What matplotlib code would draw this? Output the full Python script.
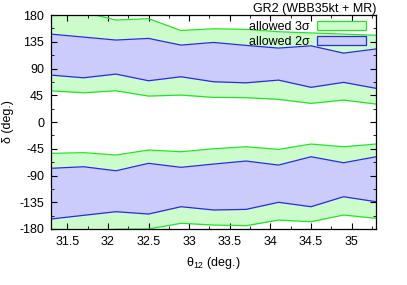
import matplotlib
matplotlib.use("Agg")
import matplotlib.pyplot as plt
from matplotlib.patches import Patch
from matplotlib.ticker import MultipleLocator, FixedLocator, FormatStrFormatter

plt.rcParams["font.family"] = ["Liberation Sans", "DejaVu Sans"]
plt.rcParams["axes.unicode_minus"] = False

# theta12 grid (deg.)
theta12 = [31.3, 31.7, 32.1, 32.5, 32.9, 33.3, 33.7, 34.1, 34.5, 34.9, 35.3]

# upper band (delta > 0)
up_3s_hi = [190, 185, 171.6, 174, 154, 157, 156, 152, 150, 148, 146]
up_2s_hi = [148, 143, 138, 140.8, 129.5, 134, 129, 124.5, 128.3, 116, 123]
up_2s_lo = [79, 74.5, 80.7, 69.5, 76.2, 67.8, 66, 70.6, 58.4, 66.8, 56.7]
up_3s_lo = [52.6, 49.3, 52.6, 43.7, 45.4, 41.5, 41, 38.2, 31.4, 37, 30.3]

# lower band (delta < 0)
lo_3s_hi = [-52.7, -51.5, -55.5, -47.1, -50, -45, -41.6, -46, -37, -41.6, -37]
lo_2s_hi = [-77.9, -75.2, -82, -69.5, -76.2, -70.7, -65.6, -72.4, -58.4, -68.5, -58.4]
lo_2s_lo = [-163.2, -157, -150.9, -154.8, -142.5, -148, -147, -135.1, -142.5, -125.7, -134.1]
lo_3s_lo = [-190, -185, -180.5, -180, -170.4, -173.3, -174.5, -164.9, -167.8, -156.5, -162]

x_ticks = [31.5, 32, 32.5, 33, 33.5, 34, 34.5, 35]
y_ticks = [-180, -135, -90, -45, 0, 45, 90, 135, 180]

g_fill, g_line = "#ccfccc", "#22e622"
b_fill, b_line = "#ccccfc", "#2a2ae6"
fs = 9

fig = plt.figure(figsize=(4.07, 2.85), dpi=100)
ax = fig.add_axes([0.1253, 0.1965, 0.7987, 0.7505])

for hi3, hi2, lo2, lo3 in [(up_3s_hi, up_2s_hi, up_2s_lo, up_3s_lo),
                           (lo_3s_hi, lo_2s_hi, lo_2s_lo, lo_3s_lo)]:
    ax.fill_between(theta12, lo3, hi3, color=g_fill, lw=0)
    ax.fill_between(theta12, lo2, hi2, color=b_fill, lw=0)
    for ys in (hi3, lo3):
        ax.plot(theta12, ys, color=g_line, lw=0.9)
    for ys in (hi2, lo2):
        ax.plot(theta12, ys, color=b_line, lw=0.9)

ax.set_xlim(31.3, 35.3)
ax.set_ylim(-180, 180)
ax.xaxis.set_major_locator(FixedLocator(x_ticks))
ax.xaxis.set_major_formatter(FormatStrFormatter("%g"))
ax.xaxis.set_minor_locator(MultipleLocator(0.25))
ax.yaxis.set_major_locator(FixedLocator(y_ticks))
ax.yaxis.set_minor_locator(MultipleLocator(22.5))
ax.tick_params(which="both", direction="in", top=True, right=True,
               labelsize=fs, pad=5)
ax.tick_params(which="major", length=4, width=0.8)
ax.tick_params(which="minor", length=2, width=0.6)
for s in ax.spines.values():
    s.set_linewidth(0.9)

ax.set_xlabel(r"$\mathregular{\theta_{12}}$ (deg.)", fontsize=fs, labelpad=5)
ax.set_ylabel("δ (deg.)", fontsize=fs, labelpad=4)
ax.set_title("GR2 (WBB35kt + MR)", fontsize=fs, loc="right", pad=1)

handles = [Patch(facecolor=g_fill, edgecolor=g_line, lw=0.9, label="allowed 3σ"),
           Patch(facecolor=b_fill, edgecolor=b_line, lw=0.9, label="allowed 2σ")]
ax.legend(handles=handles, loc="upper right", frameon=False, markerfirst=False,
          fontsize=fs, handlelength=3.9, handleheight=0.75, labelspacing=0.2,
          borderaxespad=0.0, handletextpad=0.6, bbox_to_anchor=(0.985, 0.995))

fig.savefig("out.png", dpi=100)
